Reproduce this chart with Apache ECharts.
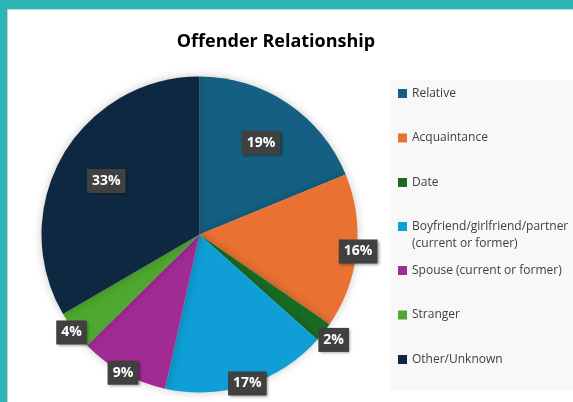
<!DOCTYPE html>
<html>
<head>
<meta charset="utf-8">
<script src="https://cdn.jsdelivr.net/npm/echarts@6/dist/echarts.min.js"></script>
<style>
  html, body { margin: 0; padding: 0; }
  body { width: 573px; height: 402px; background: #2cb5b6; position: relative; overflow: hidden; }
  #frame {
    position: absolute; left: 7px; top: 9px; right: 0; bottom: 0;
    background: #fff; border-top: 1px solid #cfcfcf; border-left: 1px solid #cfcfcf;
  }
  #chart { width: 565px; height: 392px; }
</style>
</head>
<body>
<div id="frame"><div id="chart"></div></div>
<script>
// offender relationship shares (%)
const categories = [
  'Relative',
  'Acquaintance',
  'Date',
  'Boyfriend/girlfriend/partner (current or former)',
  'Spouse (current or former)',
  'Stranger',
  'Other/Unknown'
]
const shares = [18.8, 15.8, 2.0, 16.9, 9.1, 4.0, 33.4]
const colors = ['#156082', '#e97132', '#196b24', '#0f9ed5', '#a02b93', '#4ea72e', '#0e2841']

// where each label sits, as a fraction of the pie radius
const labelAt = [0.70, 1.01, 1.08, 0.99, 1.0, 1.02, 0.68]

const CX = 191.5
const CY = 224.5
const R = 158

const legendText = {
  fontFamily: 'Open Sans',
  fontSize: 12,
  lineHeight: 17,
  color: '#404040',
  width: 160,
  overflow: 'break'
}

// excel keeps the entries on an even pitch, the two-line one just spills down,
// so the list is split in three legends
function legend(names, top, padding, extra) {
  return Object.assign({
    orient: 'vertical',
    left: 383,
    top: top,
    padding: padding,
    icon: 'rect',
    itemWidth: 9,
    itemHeight: 9,
    itemGap: 27.5,
    selectedMode: false,
    textStyle: legendText,
    data: names,
    z: 5
  }, extra || {})
}

const chart = echarts.init(document.getElementById('chart'))

chart.setOption({
  animation: false,
  title: {
    text: 'Offender Relationship',
    left: 268,
    top: 21,
    padding: 0,
    textAlign: 'center',
    textStyle: {
      fontFamily: 'Open Sans',
      fontSize: 18,
      fontWeight: 'bold',
      lineHeight: 22,
      color: '#000'
    }
  },
  legend: [
    legend(categories.slice(0, 3), 70, [5, 1, 0, 7]),
    // square sits at the top of a taller icon box so it lines up with the first text line
    legend([categories[3]], 208, [0, 1, 0, 7], {
      icon: 'path://M0,0H9V9H0ZM0,26',
      itemHeight: 26
    }),
    legend(categories.slice(4), 70, [182, 1, 22.5, 7], { backgroundColor: '#f8f8f8', z: 4 })
  ],
  series: [{
    type: 'pie',
    center: [CX, CY],
    radius: R,
    startAngle: 90,
    clockwise: true,
    silent: true,
    itemStyle: {
      shadowBlur: 10,
      shadowColor: 'rgba(0,0,0,0.22)'
    },
    label: {
      show: true,
      position: 'inside',
      formatter: p => Math.round(p.value) + '%',
      fontFamily: 'Open Sans',
      fontSize: 14,
      fontWeight: 'bold',
      lineHeight: 16,
      color: '#fff',
      backgroundColor: '#404040',
      padding: [4, 5],
      shadowColor: 'rgba(0,0,0,0.45)',
      shadowBlur: 3,
      shadowOffsetX: 1.5,
      shadowOffsetY: 1.5
    },
    labelLine: { show: false },
    labelLayout: function (p) {
      const lx = p.labelRect.x + p.labelRect.width / 2
      const ly = p.labelRect.y + p.labelRect.height / 2
      const d = Math.sqrt((lx - CX) * (lx - CX) + (ly - CY) * (ly - CY))
      const s = labelAt[p.dataIndex] * R / d - 1
      return { dx: (lx - CX) * s, dy: (ly - CY) * s }
    },
    data: categories.map((name, i) => ({
      name: name,
      value: shares[i],
      itemStyle: { color: colors[i] }
    }))
  }]
})
</script>
</body>
</html>
